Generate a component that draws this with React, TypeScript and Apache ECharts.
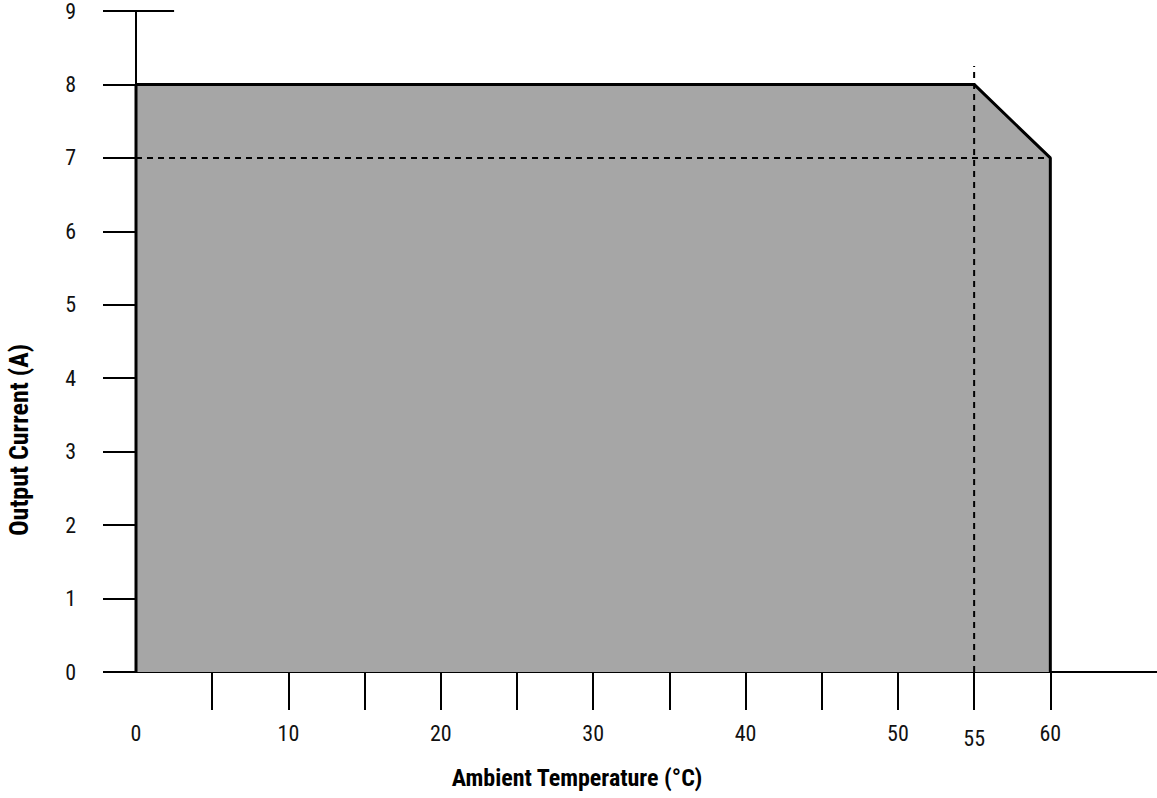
import React, { useEffect, useRef } from 'react';
import * as echarts from 'echarts';

// ---- data ----
const xTickValues = [5, 10, 15, 20, 25, 30, 35, 40, 45, 50, 55, 60];
const xLabelValues = [0, 10, 20, 30, 40, 50, 55, 60];
const yTickValues = [0, 1, 2, 3, 4, 5, 6, 7, 8, 9];
const yLabelValues = [0, 1, 2, 3, 4, 5, 6, 7, 8, 9];
const deratingCurve: [number, number][] = [[0, 0], [0, 8], [55, 8], [60, 7], [60, 0]];
const refHorizontal: [number, number][] = [[0, 7], [60, 7]];
const refVertical: [number, number][] = [[55, 0], [55, 8.25]];
const axisCap: [number, number][] = [[0, 9], [2.5, 9]];

const FONT = '"Liberation Sans Narrow", "Roboto Condensed", Roboto, sans-serif';

export default function App() {
  const ref = useRef<HTMLDivElement>(null);
  useEffect(() => {
    if (!ref.current) return;
    const chart = echarts.init(ref.current, null, { renderer: 'svg' });
    chart.setOption({
      animation: false,
      backgroundColor: '#ffffff',
      textStyle: { fontFamily: FONT },
      grid: { left: 136, right: 0, top: 11, bottom: 126, outerBoundsMode: 'none' },
      xAxis: {
        type: 'value',
        min: 0,
        max: 67,
        splitLine: { show: false },
        axisLine: { show: true, onZero: false, lineStyle: { color: '#000', width: 2 } },
        axisTick: { show: true, customValues: xTickValues, length: 38, lineStyle: { color: '#000', width: 2 } },
        axisLabel: {
          customValues: xLabelValues,
          margin: 50,
          color: '#111',
          fontSize: 22,
          fontFamily: FONT,
          formatter: (v: number) => (v === 55 ? '{low|55}' : String(v)),
          rich: { low: { padding: [5, 0, 0, 0], fontSize: 22, fontFamily: FONT, color: '#111' } },
        },
      },
      yAxis: {
        type: 'value',
        min: 0,
        max: 9,
        splitLine: { show: false },
        axisLine: { show: true, onZero: false, lineStyle: { color: '#000', width: 2 } },
        axisTick: { show: true, customValues: yTickValues, length: 33, lineStyle: { color: '#000', width: 2 } },
        axisLabel: {
          customValues: yLabelValues,
          margin: 60,
          color: '#111',
          fontSize: 22,
          fontFamily: FONT,
        },
      },
      graphic: [
        {
          type: 'text',
          x: 577,
          y: 778,
          style: {
            text: 'Ambient Temperature (°C)',
            font: `bold 24px ${FONT}`,
            align: 'center',
            verticalAlign: 'middle',
            fill: '#000',
          },
        },
        {
          type: 'text',
          x: 19,
          y: 440,
          rotation: Math.PI / 2,
          style: {
            text: 'Output Current (A)',
            font: `bold 26px ${FONT}`,
            align: 'center',
            verticalAlign: 'middle',
            fill: '#000',
          },
        },
      ],
      series: [
        {
          type: 'line',
          data: deratingCurve,
          symbol: 'none',
          z: 2,
          lineStyle: { color: '#000', width: 3 },
          areaStyle: { color: '#a6a6a6', opacity: 1 },
        },
        {
          type: 'line',
          data: refHorizontal,
          symbol: 'none',
          z: 3,
          lineStyle: { color: '#000', width: 2, type: [6, 5] },
        },
        {
          type: 'line',
          data: refVertical,
          symbol: 'none',
          z: 3,
          lineStyle: { color: '#000', width: 2, type: [6, 5] },
        },
        {
          type: 'line',
          data: axisCap,
          symbol: 'none',
          z: 3,
          lineStyle: { color: '#000', width: 2 },
        },
      ],
    });
    return () => chart.dispose();
  }, []);
  return <div ref={ref} style={{ position: 'absolute', left: 0, top: 0, width: 1157, height: 798 }} />;
}
